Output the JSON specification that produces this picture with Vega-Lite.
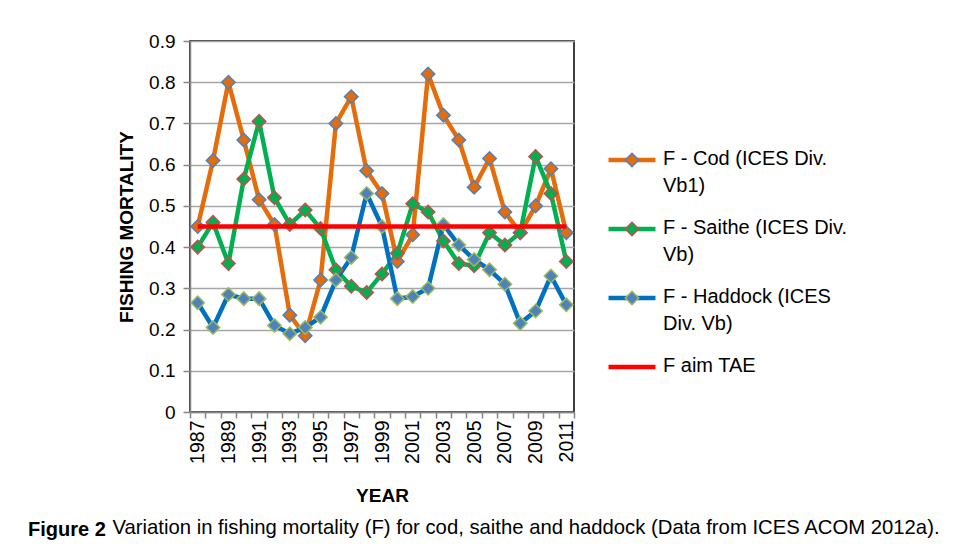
{
  "$schema": "https://vega.github.io/schema/vega-lite/v6.json",
  "width": 384,
  "height": 371,
  "autosize": "none",
  "padding": {"left": 190, "top": 41, "right": 385, "bottom": 135},
  "background": "white",
  "config": {
    "font": "Liberation Sans",
    "view": {"stroke": "#000000", "strokeWidth": 1.5},
    "axis": {
      "labelColor": "#000000",
      "titleColor": "#000000",
      "domainColor": "#868686",
      "tickColor": "#868686",
      "domainWidth": 1.5,
      "tickWidth": 1.5,
      "labelFontSize": 19,
      "titleFontSize": 19,
      "titleFontWeight": "bold"
    }
  },
  "title": {
    "text": "Figure 2",
    "subtitle": "\u200b\u00a0\u00a0\u00a0\u00a0\u00a0\u00a0\u00a0\u00a0\u00a0\u00a0\u00a0\u00a0\u00a0\u00a0\u00a0Variation in fishing mortality (F) for cod, saithe and haddock (Data from ICES ACOM 2012a).",
    "orient": "bottom",
    "anchor": "start",
    "frame": "group",
    "dx": -162,
    "offset": 15,
    "font": "Liberation Sans",
    "fontSize": 20,
    "fontWeight": "bold",
    "color": "#000000",
    "subtitleFont": "Liberation Sans",
    "subtitleFontSize": 20.3,
    "subtitleFontWeight": "normal",
    "subtitleColor": "#000000",
    "lineHeight": 22,
    "subtitleLineHeight": 22,
    "subtitlePadding": -22
  },
  "data": {
    "values": [
      {"year": 1987, "Cod": 0.45, "Saithe": 0.40, "Haddock": 0.265, "Aim": 0.45},
      {"year": 1988, "Cod": 0.61, "Saithe": 0.46, "Haddock": 0.205, "Aim": 0.45},
      {"year": 1989, "Cod": 0.80, "Saithe": 0.36, "Haddock": 0.285, "Aim": 0.45},
      {"year": 1990, "Cod": 0.66, "Saithe": 0.565, "Haddock": 0.275, "Aim": 0.45},
      {"year": 1991, "Cod": 0.515, "Saithe": 0.705, "Haddock": 0.275, "Aim": 0.45},
      {"year": 1992, "Cod": 0.455, "Saithe": 0.52, "Haddock": 0.21, "Aim": 0.45},
      {"year": 1993, "Cod": 0.235, "Saithe": 0.455, "Haddock": 0.19, "Aim": 0.45},
      {"year": 1994, "Cod": 0.185, "Saithe": 0.49, "Haddock": 0.205, "Aim": 0.45},
      {"year": 1995, "Cod": 0.32, "Saithe": 0.445, "Haddock": 0.23, "Aim": 0.45},
      {"year": 1996, "Cod": 0.70, "Saithe": 0.345, "Haddock": 0.32, "Aim": 0.45},
      {"year": 1997, "Cod": 0.765, "Saithe": 0.305, "Haddock": 0.375, "Aim": 0.45},
      {"year": 1998, "Cod": 0.585, "Saithe": 0.29, "Haddock": 0.53, "Aim": 0.45},
      {"year": 1999, "Cod": 0.53, "Saithe": 0.335, "Haddock": 0.45, "Aim": 0.45},
      {"year": 2000, "Cod": 0.365, "Saithe": 0.385, "Haddock": 0.275, "Aim": 0.45},
      {"year": 2001, "Cod": 0.43, "Saithe": 0.505, "Haddock": 0.28, "Aim": 0.45},
      {"year": 2002, "Cod": 0.82, "Saithe": 0.485, "Haddock": 0.30, "Aim": 0.45},
      {"year": 2003, "Cod": 0.72, "Saithe": 0.415, "Haddock": 0.455, "Aim": 0.45},
      {"year": 2004, "Cod": 0.66, "Saithe": 0.36, "Haddock": 0.405, "Aim": 0.45},
      {"year": 2005, "Cod": 0.545, "Saithe": 0.355, "Haddock": 0.37, "Aim": 0.45},
      {"year": 2006, "Cod": 0.615, "Saithe": 0.435, "Haddock": 0.345, "Aim": 0.45},
      {"year": 2007, "Cod": 0.485, "Saithe": 0.405, "Haddock": 0.31, "Aim": 0.45},
      {"year": 2008, "Cod": 0.435, "Saithe": 0.435, "Haddock": 0.215, "Aim": 0.45},
      {"year": 2009, "Cod": 0.50, "Saithe": 0.62, "Haddock": 0.245, "Aim": 0.45},
      {"year": 2010, "Cod": 0.59, "Saithe": 0.53, "Haddock": 0.33, "Aim": 0.45},
      {"year": 2011, "Cod": 0.435, "Saithe": 0.365, "Haddock": 0.26, "Aim": 0.45}
    ]
  },
  "encoding": {
    "x": {
      "field": "year",
      "type": "ordinal",
      "scale": {"type": "band", "paddingInner": 0, "paddingOuter": 0},
      "axis": {
        "title": "YEAR",
        "labelAngle": -90,
        "labelExpr": "datum.value % 2 == 1 ? datum.label : ''",
        "labelOverlap": false,
        "tickBand": "extent",
        "tickSize": 6,
        "labelPadding": 2,
        "labelFontSize": 19.5,
        "titlePadding": 23,
        "grid": false
      }
    },
    "y": {
      "field": "F",
      "type": "quantitative",
      "scale": {"domain": [0, 0.9], "nice": false, "zero": true},
      "axis": {
        "title": "FISHING MORTALITY",
        "values": [0, 0.1, 0.2, 0.3, 0.4, 0.5, 0.6, 0.7, 0.8, 0.9],
        "format": ".1~f",
        "grid": true,
        "gridColor": "#A6A6A6",
        "gridWidth": 1.3,
        "tickSize": 7,
        "labelPadding": 8,
        "titlePadding": 12
      }
    }
  },
  "layer": [
    {
      "transform": [{"fold": ["Cod", "Saithe", "Haddock"], "as": ["series", "F"]}],
      "mark": {"type": "line", "strokeWidth": 4.5},
      "encoding": {
        "color": {
          "field": "series",
          "type": "nominal",
          "scale": {"domain": ["Cod", "Saithe", "Haddock", "Aim"], "range": ["#E46C0A", "#00B050", "#0070C0", "#FF0000"]},
          "legend": {
            "title": null,
            "orient": "none",
            "legendX": 432,
            "legendY": 109,
            "padding": 0,
            "rowPadding": 22,
            "symbolType": "M-3.5,0L3.5,0",
            "symbolSize": 180,
            "symbolStrokeWidth": 4.5,
            "symbolOpacity": 1,
            "labelFontSize": 20,
            "labelOffset": 21,
            "labelLimit": 400,
            "labelColor": "#000000",
            "labelBaseline": "top",
            "labelExpr": "datum.label == 'Cod' ? ['F - Cod (ICES Div.', 'Vb1)'] : datum.label == 'Saithe' ? ['F - Saithe (ICES Div.', 'Vb)'] : datum.label == 'Haddock' ? ['F - Haddock (ICES', 'Div. Vb)'] : 'F aim TAE'",
            "encode": {"labels": {"update": {"lineHeight": {"value": 27}, "dy": {"value": -11}}}}
          }
        }
      }
    },
    {
      "transform": [{"fold": ["Cod", "Saithe", "Haddock"], "as": ["series", "F"]}],
      "mark": {"type": "point", "shape": "diamond", "filled": true, "size": 180, "strokeWidth": 1.5, "opacity": 1},
      "encoding": {
        "fill": {
          "field": "series",
          "type": "nominal",
          "scale": {"domain": ["Cod", "Saithe", "Haddock"], "range": ["#E46C0A", "#00B050", "#4F81BD"]},
          "legend": {
            "title": null,
            "orient": "none",
            "legendX": 432,
            "legendY": 109,
            "padding": 0,
            "rowPadding": 22,
            "symbolType": "diamond",
            "symbolSize": 180,
            "symbolStrokeWidth": 1.5,
            "symbolOpacity": 1,
            "labelFontSize": 20,
            "labelOffset": 21,
            "labelLimit": 400,
            "labelOpacity": 0,
            "labelBaseline": "top",
            "labelExpr": "datum.label == 'Cod' ? ['F - Cod (ICES Div.', 'Vb1)'] : datum.label == 'Saithe' ? ['F - Saithe (ICES Div.', 'Vb)'] : datum.label == 'Haddock' ? ['F - Haddock (ICES', 'Div. Vb)'] : 'F aim TAE'",
            "encode": {"labels": {"update": {"lineHeight": {"value": 27}, "dy": {"value": -11}}}}
          }
        },
        "stroke": {
          "field": "series",
          "type": "nominal",
          "scale": {"domain": ["Cod", "Saithe", "Haddock"], "range": ["#4F81BD", "#C0504D", "#9BBB59"]},
          "legend": {
            "title": null,
            "orient": "none",
            "legendX": 432,
            "legendY": 109,
            "padding": 0,
            "rowPadding": 22,
            "symbolType": "diamond",
            "symbolSize": 180,
            "symbolStrokeWidth": 1.5,
            "symbolOpacity": 1,
            "labelFontSize": 20,
            "labelOffset": 21,
            "labelLimit": 400,
            "labelOpacity": 0,
            "labelBaseline": "top",
            "labelExpr": "datum.label == 'Cod' ? ['F - Cod (ICES Div.', 'Vb1)'] : datum.label == 'Saithe' ? ['F - Saithe (ICES Div.', 'Vb)'] : datum.label == 'Haddock' ? ['F - Haddock (ICES', 'Div. Vb)'] : 'F aim TAE'",
            "encode": {"labels": {"update": {"lineHeight": {"value": 27}, "dy": {"value": -11}}}}
          }
        }
      }
    },
    {
      "transform": [{"fold": ["Aim"], "as": ["series", "F"]}],
      "mark": {"type": "line", "strokeWidth": 4.5},
      "encoding": {
        "color": {"field": "series", "type": "nominal"}
      }
    }
  ]
}
